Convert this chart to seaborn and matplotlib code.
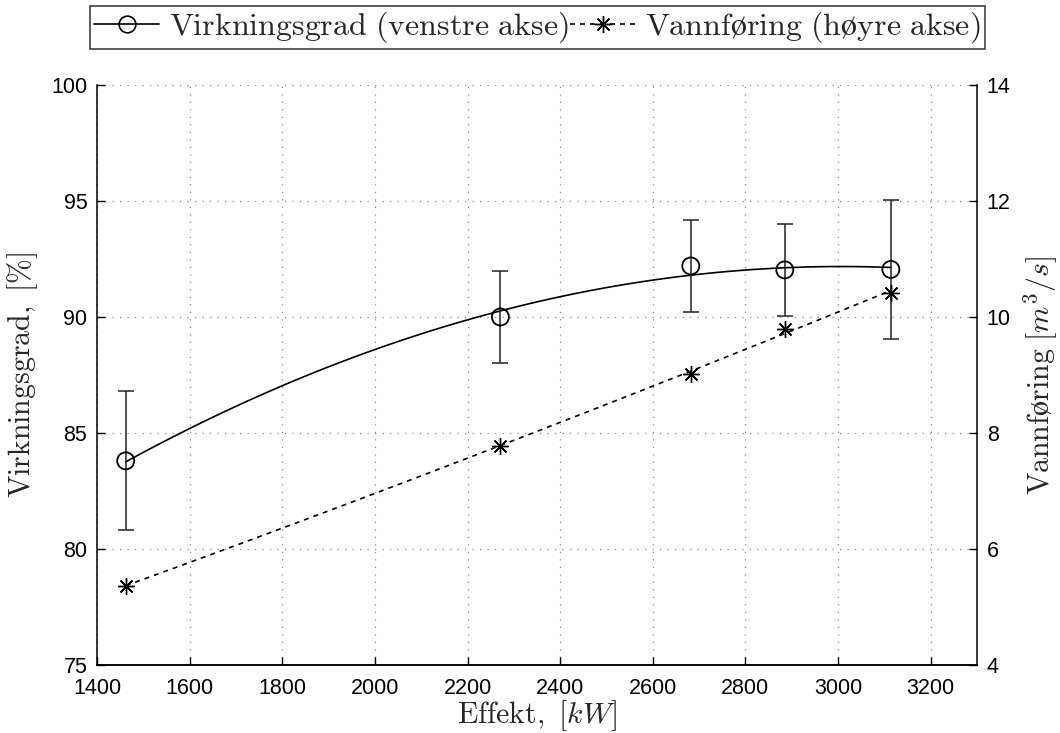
import matplotlib
matplotlib.use("Agg")
import matplotlib.pyplot as plt
import seaborn as sns
import numpy as np
import pandas as pd
from matplotlib.lines import Line2D

# ---- data ----
effekt = [1462, 2271, 2682, 2885, 3114]            # kW
virkningsgrad = [83.8, 90.0, 92.2, 92.03, 92.05]   # %
feil = [3.0, 2.0, 2.0, 2.0, 3.0]                   # error bar half-width, %
vannforing = [5.37, 7.78, 9.02, 9.80, 10.42]        # m^3/s

x_ticks = [1400, 1600, 1800, 2000, 2200, 2400, 2600, 2800, 3000, 3200]
y_left_ticks = [75, 80, 85, 90, 95, 100]
y_right_ticks = [4, 6, 8, 10, 12, 14]

label_eff = r'$\mathrm{Virkningsgrad\ (venstre\ akse)}$'
label_vann = r'$\mathrm{Vannf\o ring\ (h\o yre\ akse)}$'

df = pd.DataFrame({"effekt": effekt, "virk": virkningsgrad,
                   "feil": feil, "vann": vannforing})

sns.set_theme(style="white")
plt.rcParams['mathtext.fontset'] = 'cm'
plt.rcParams['font.family'] = ['Liberation Sans', 'DejaVu Sans']

fig = plt.figure(figsize=(10.6, 7.33), dpi=100)
ax = fig.add_axes([97/1060, 68/733, 880/1060, 580/733])
ax2 = ax.twinx()

# efficiency: quadratic fit line, error bars, open circles
sns.regplot(data=df, x="effekt", y="virk", order=2, ci=None, scatter=False,
            ax=ax, line_kws=dict(color="black", lw=1.2))
ax.errorbar(df["effekt"], df["virk"], yerr=df["feil"], fmt="none",
            ecolor="#222222", elinewidth=1.1, capsize=5.8, capthick=1.1, zorder=3)
sns.scatterplot(data=df, x="effekt", y="virk", ax=ax, marker="o", s=150,
                facecolor="none", edgecolor="black", linewidth=1.3, zorder=4)

# flow: quadratic fit dashed line + asterisks on right axis
sns.regplot(data=df, x="effekt", y="vann", order=2, ci=None, scatter=False,
            ax=ax2, line_kws=dict(color="black", lw=1.2, ls=(0, (3, 3))))
ax2.plot(df["effekt"], df["vann"], ls="none", marker=(8, 2, 0), ms=12,
         mec="black", mew=1.0, color="black", zorder=4)

ax.set_xlim(1400, 3300)
ax.set_ylim(75, 100)
ax2.set_ylim(4, 14)
ax.set_xticks(x_ticks)
ax.set_yticks(y_left_ticks)
ax2.set_yticks(y_right_ticks)

ax.grid(True, color="#888888", lw=0.9, ls=(0, (1, 5)))
ax2.grid(False)

for a in (ax, ax2):
    a.spines["top"].set_visible(False)
    for s in a.spines.values():
        s.set_color("black")
        s.set_linewidth(1.1)
    a.tick_params(direction="in", length=6, width=1, colors="black",
                  labelsize=15.5)
ax.spines["right"].set_visible(False)
ax2.spines["left"].set_visible(False)
ax.tick_params(axis="y", left=True, right=False, pad=7)
ax.tick_params(axis="x", bottom=True, top=False, pad=9)
ax2.tick_params(axis="y", right=True, left=False, pad=7)

ax.set_xlabel(r'$\mathrm{Effekt,\ }[kW]$', fontsize=21.5, labelpad=0)
ax.set_ylabel(r'$\mathrm{Virkningsgrad,\ }[\%]$', fontsize=21.5, labelpad=8)
ax2.set_ylabel(r'$\mathrm{Vannf\o ring\ }[m^3/s]$', fontsize=21.5, labelpad=8)

handles = [
    Line2D([], [], color="black", lw=1.2, marker="o", ms=12, mfc="none", mew=1.2),
    Line2D([], [], color="black", lw=1.2, ls=(0, (3, 3)), marker=(8, 2, 0), ms=12, mew=1.0),
]
leg = fig.legend(handles, [label_eff, label_vann], loc="upper center",
                 bbox_to_anchor=(0.507, 0.996), ncol=2, fontsize=23,
                 frameon=True, fancybox=False, edgecolor="black",
                 handlelength=2.05, handletextpad=0.3, columnspacing=0.05,
                 borderpad=0.12, borderaxespad=0.1)
leg.get_frame().set_linewidth(1.1)

fig.savefig("out.png", dpi=100)
